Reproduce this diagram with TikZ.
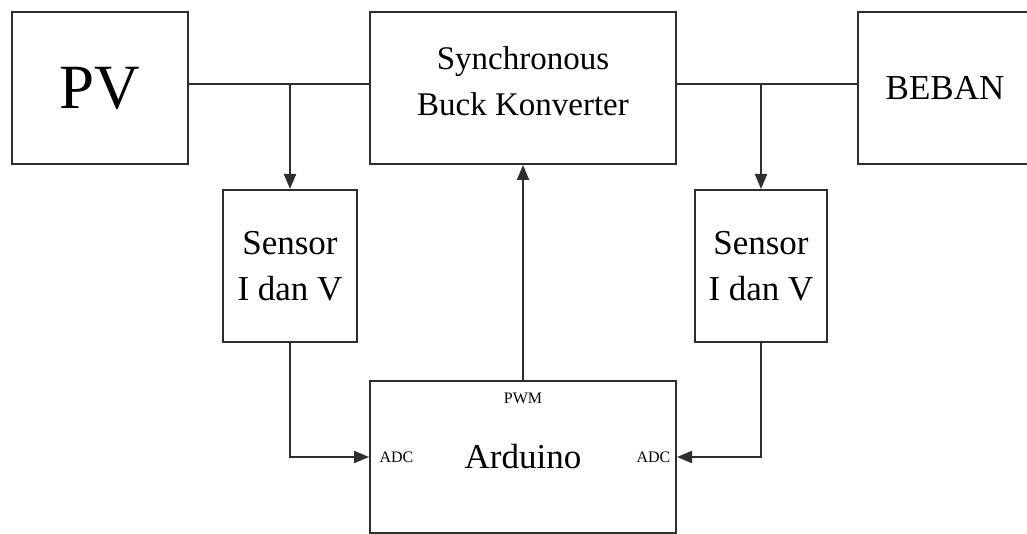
\documentclass[tikz,border=0pt]{standalone}
\usepackage{fontspec}
\setmainfont{Liberation Serif}
\usetikzlibrary{arrows.meta}
\definecolor{ln}{HTML}{2E2E2E}
\tikzset{
  blk/.style={draw=ln, line width=2pt, rectangle, inner sep=0pt, align=center, text=black},
  con/.style={draw=ln, line width=2pt},
  arr/.style={con, -{Triangle[length=15pt,width=12pt]}},
  lbl/.style={inner sep=0pt, text=black, font=\fontsize{16}{18}\selectfont}
}
\begin{document}
\begin{tikzpicture}[x=1pt,y=-1pt]
\useasboundingbox (0,0) rectangle (1027,534);
\begin{scope}
\clip (0,0) rectangle (1027,534);
\node[blk, minimum width=176pt, minimum height=152pt, font=\fontsize{63}{70}\selectfont] (pv) at (100,88) {PV};
\node[blk, minimum width=306pt, minimum height=152pt, font=\fontsize{33}{46}\selectfont] (buck) at (523,88) {Synchronous\\Buck Konverter\strut};
\node[blk, minimum width=174pt, minimum height=152pt, font=\fontsize{35}{40}\selectfont] (beban) at (945,88) {BEBAN};
\node[blk, minimum width=134pt, minimum height=152pt, font=\fontsize{35}{46}\selectfont] (s1) at (290,266) {Sensor\\I dan V};
\node[blk, minimum width=132pt, minimum height=152pt, font=\fontsize{35}{46}\selectfont] (s2) at (761,266) {Sensor\\I dan V};
\node[blk, minimum width=306pt, minimum height=152pt, font=\fontsize{35}{40}\selectfont] (ard) at (523,457) {Arduino};
\end{scope}
\node[lbl] (pwm) at (523,398) {PWM};
\node[lbl] (adc1) at (396.5,457) {ADC};
\node[lbl] (adc2) at (653.5,457) {ADC};
\coordinate (j1) at (290,84);
\coordinate (j2) at (761,84);
\draw[con] (pv.east |- j1) -- (buck.west |- j1);
\draw[con] (buck.east |- j2) -- (beban.west |- j2);
\draw[arr] (j1) -- (j1 |- s1.north);
\draw[arr] (j2) -- (j2 |- s2.north);
\draw[arr] (s1.south) |- (ard.west);
\draw[arr] (s2.south) |- (ard.east);
\draw[arr] (ard.north) -- (ard.north |- buck.south);
\end{tikzpicture}
\end{document}
